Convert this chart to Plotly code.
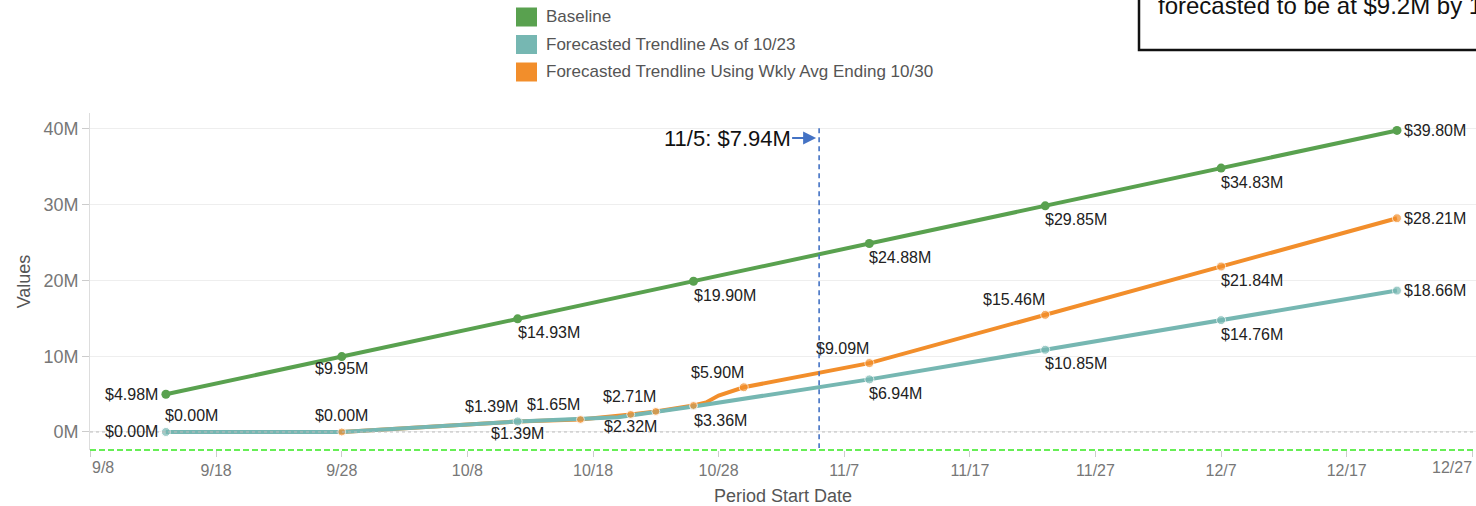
import plotly.graph_objects as go

# ---------------- data (values in $M) ----------------
baseline_dates = ["2023-09-14", "2023-09-28", "2023-10-12", "2023-10-26",
                  "2023-11-09", "2023-11-23", "2023-12-07", "2023-12-21"]
baseline_vals = [4.98, 9.95, 14.93, 19.90, 24.88, 29.85, 34.83, 39.80]

teal_dates = ["2023-09-14", "2023-09-28", "2023-10-12", "2023-10-20", "2023-10-26",
              "2023-11-09", "2023-11-23", "2023-12-07", "2023-12-21"]
teal_vals = [0.00, 0.00, 1.39, 1.95, 3.36, 6.94, 10.85, 14.76, 18.66]

orange_dates = ["2023-09-14", "2023-09-28", "2023-10-12", "2023-10-17", "2023-10-21",
                "2023-10-23", "2023-10-26", "2023-10-27", "2023-10-28", "2023-10-29",
                "2023-10-30", "2023-11-09", "2023-11-23", "2023-12-07", "2023-12-21"]
orange_vals = [0.00, 0.00, 1.39, 1.65, 2.32, 2.71, 3.50, 3.90, 4.80, 5.30,
               5.90, 9.09, 15.46, 21.84, 28.21]

series_names = ["Baseline", "Forecasted Trendline As of 10/23",
                "Forecasted Trendline Using Wkly Avg Ending 10/30"]

x_tick_dates = ["2023-09-08", "2023-09-18", "2023-09-28", "2023-10-08", "2023-10-18",
                "2023-10-28", "2023-11-07", "2023-11-17", "2023-11-27", "2023-12-07",
                "2023-12-17", "2023-12-27"]
x_tick_labels = ["9/8", "9/18", "9/28", "10/8", "10/18", "10/28", "11/7", "11/17",
                 "11/27", "12/7", "12/17", "12/27"]
y_tick_vals = [0, 10, 20, 30, 40]
y_tick_labels = ["0M", "10M", "20M", "30M", "40M"]

marker_date = "2023-11-05"
marker_label = "11/5: $7.94M"
note_text = "forecasted to be at $9.2M by 11/9"

# ---------------- styling ----------------
GREEN = "#59a14f"
TEAL = "#76b7b2"
ORANGE = "#f28e2b"
BLUE = "#4472c4"
W, H = 1476, 506
ML, MR, MT, MB = 90, 0, 113, 56
PW, PH = W - ML - MR, H - MT - MB
FONT = "Liberation Sans, Arial, sans-serif"
NARROW = "Liberation Sans Narrow, Arial Narrow, Liberation Sans, Arial, sans-serif"


def px_x(p):
    return (p - ML) / PW


def px_y(p):
    return (H - MB - p) / PH


teal_sizes = [9, 0, 9, 0, 7, 9, 9, 9, 9]
orange_sizes = [0, 8, 0, 8, 8, 8, 8, 0, 0, 0, 9, 9, 9, 9, 9]

fig = go.Figure()
fig.add_trace(go.Scatter(x=baseline_dates, y=baseline_vals, mode="lines+markers",
                         name=series_names[0], showlegend=False,
                         line=dict(color=GREEN, width=4), marker=dict(size=9, color=GREEN)))
fig.add_trace(go.Scatter(x=orange_dates, y=orange_vals, mode="lines",
                         name=series_names[2], showlegend=False,
                         line=dict(color=ORANGE, width=4)))
fig.add_trace(go.Scatter(x=teal_dates, y=teal_vals, mode="lines+markers",
                         name=series_names[1], showlegend=False,
                         line=dict(color=TEAL, width=4),
                         marker=dict(size=teal_sizes, color=TEAL)))
fig.add_trace(go.Scatter(x=orange_dates, y=orange_vals, mode="markers",
                         name=series_names[2], showlegend=False,
                         marker=dict(size=orange_sizes, color=ORANGE)))

# ---------------- data labels ----------------
place = {
    "left": dict(xanchor="right", xshift=-6, yshift=0),
    "right": dict(xanchor="left", xshift=5, yshift=0),
    "below": dict(xanchor="center", xshift=0, yshift=-12),
    "below_right": dict(xanchor="left", xshift=-2, yshift=-14),
    "above": dict(xanchor="center", xshift=0, yshift=16),
    "above_left": dict(xanchor="right", xshift=2, yshift=15),
    "above_right": dict(xanchor="left", xshift=-3, yshift=16),
}
series_data = {
    "b": (baseline_dates, baseline_vals),
    "t": (teal_dates, teal_vals),
    "o": (orange_dates, orange_vals),
}
labels = [
    ("b", 0, "left"), ("b", 1, "below"), ("b", 2, "below_right"), ("b", 3, "below_right"),
    ("b", 4, "below_right"), ("b", 5, "below_right"), ("b", 6, "below_right"), ("b", 7, "right"),
    ("t", 0, "left"), ("t", 2, "below"), ("t", 4, "below_right"), ("t", 5, "below_right"),
    ("t", 6, "below_right"), ("t", 7, "below_right"), ("t", 8, "right"),
    ("o", 0, "above_right"), ("o", 1, "above"), ("o", 2, "above_left"), ("o", 3, "above_left"),
    ("o", 4, "below"), ("o", 5, "above_left"), ("o", 10, "above_left"), ("o", 11, "above_left"),
    ("o", 12, "above_left"), ("o", 13, "below_right"), ("o", 14, "right"),
]
annotations = []
for key, i, pos in labels:
    xs, ys = series_data[key]
    annotations.append(dict(x=xs[i], y=ys[i], xref="x", yref="y", text=f"${ys[i]:.2f}M",
                            showarrow=False, yanchor="middle",
                            font=dict(family=FONT, size=16, color="#222"), **place[pos]))

# marker annotation with arrow
annotations.append(dict(x=marker_date, y=38.8, xref="x", yref="y", text=marker_label,
                        showarrow=True, arrowhead=2, arrowsize=1.3, arrowwidth=2,
                        arrowcolor=BLUE, ax=-92, ay=0, standoff=3,
                        font=dict(family=NARROW, size=22, color="#111")))

# edge tick labels (first left-aligned, last right-aligned)
annotations.append(dict(x=0, y=px_y(467), xref="paper", yref="paper", text=x_tick_labels[0],
                        showarrow=False, xanchor="left", yanchor="middle",
                        font=dict(family=FONT, size=16, color="#777")))
annotations.append(dict(x=1, y=px_y(467), xref="paper", yref="paper", text=x_tick_labels[-1],
                        showarrow=False, xanchor="right", yanchor="middle", xshift=-2,
                        font=dict(family=FONT, size=16, color="#777")))

# legend (drawn manually)
shapes = []
legend_colors = [GREEN, TEAL, ORANGE]
for k, (nm, col) in enumerate(zip(series_names, legend_colors)):
    cy = 17 + k * 27.5
    shapes.append(dict(type="rect", xref="paper", yref="paper",
                       x0=px_x(516), x1=px_x(537), y0=px_y(cy + 9.5), y1=px_y(cy - 9.5),
                       fillcolor=col, line=dict(width=0)))
    annotations.append(dict(x=px_x(544), y=px_y(cy), xref="paper", yref="paper", text=nm,
                            showarrow=False, xanchor="left", yanchor="middle",
                            font=dict(family=FONT, size=17, color="#555")))

# note box at top right (partly outside the view)
shapes.append(dict(type="rect", xref="paper", yref="paper",
                   x0=px_x(1139), x1=px_x(1700), y0=px_y(50), y1=px_y(-60),
                   line=dict(color="#111", width=2.5), fillcolor="rgba(0,0,0,0)"))
annotations.append(dict(x=px_x(1156), y=px_y(5), xref="paper", yref="paper", text=note_text,
                        showarrow=False, xanchor="left", yanchor="middle",
                        font=dict(family=NARROW, size=24, color="#111")))

# zero reference line, bottom green dashed line, vertical date marker
shapes.append(dict(type="line", xref="paper", yref="y", x0=0, x1=1, y0=0, y1=0,
                   line=dict(color="#bbb", width=1, dash="dot")))
shapes.append(dict(type="line", xref="paper", yref="paper", x0=0, x1=1, y0=0, y1=0,
                   line=dict(color="#66ee55", width=2, dash="6px,3px")))
shapes.append(dict(type="line", xref="x", yref="y", x0=marker_date, x1=marker_date,
                   y0=40.1, y1=-2.1, line=dict(color=BLUE, width=1.6, dash="5px,4px")))

fig.update_layout(
    width=W, height=H,
    margin=dict(l=ML, r=MR, t=MT, b=MB, autoexpand=False),
    paper_bgcolor="white", plot_bgcolor="white",
    showlegend=False,
    font=dict(family=FONT, color="#555"),
    shapes=shapes, annotations=annotations,
    xaxis=dict(type="date", range=["2023-09-07 23:00", "2023-12-27 07:00"],
               tickvals=x_tick_dates,
               ticktext=[""] + x_tick_labels[1:-1] + [""],
               ticks="outside", ticklen=6, tickcolor="#ccc", showgrid=False,
               showline=False, zeroline=False,
               tickfont=dict(family=FONT, size=16, color="#777"),
               title=dict(text="Period Start Date", standoff=11,
                          font=dict(family=FONT, size=18, color="#555")),
               automargin=False),
    yaxis=dict(range=[-2.38, 42.1], tickvals=y_tick_vals, ticktext=y_tick_labels,
               ticks="outside", ticklen=7, tickcolor="#ccc",
               showgrid=True, gridcolor="#eeeeee", gridwidth=1,
               showline=True, linecolor="#ddd", linewidth=1, zeroline=False,
               tickfont=dict(family=FONT, size=18, color="#777"),
               title=dict(text="Values", standoff=8,
                          font=dict(family=FONT, size=18, color="#555")),
               automargin=False),
)

fig.write_html("out.html", config={"displayModeBar": False},
               post_script="document.body.style.margin='0';document.body.style.overflow='hidden';")
